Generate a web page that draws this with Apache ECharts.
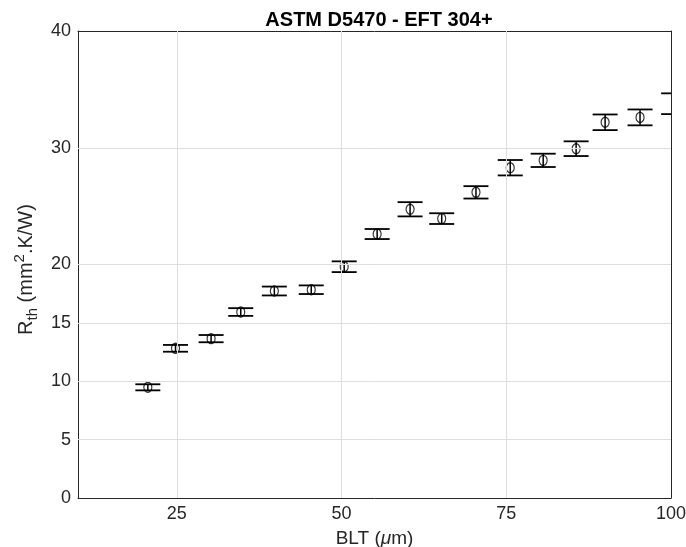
<!DOCTYPE html>
<html>
<head>
<meta charset="utf-8">
<script src="https://cdn.jsdelivr.net/npm/echarts@6/dist/echarts.min.js"></script>
<style>
  html, body { margin: 0; padding: 0; background: #fff; }
  #chart { width: 686px; height: 547px; }
</style>
</head>
<body>
<div id="chart"></div>
<script>
// BLT (um), thermal resistance and +/- error
var blt = [20.6, 24.8, 30.2, 34.7, 39.8, 45.4, 50.4, 55.4, 60.4, 65.2, 70.4, 75.6, 80.6, 85.6, 90.0, 95.3, 100.4];
var rth = [9.48, 12.82, 13.65, 15.93, 17.73, 17.84, 19.81, 22.61, 24.73, 23.93, 26.18, 28.29, 28.92, 29.92, 32.18, 32.60, 33.77];
var err = [0.26, 0.29, 0.31, 0.33, 0.38, 0.37, 0.46, 0.43, 0.61, 0.46, 0.53, 0.66, 0.57, 0.63, 0.67, 0.68, 0.89];
var xTicks = [25, 50, 75, 100];
var yTicks = [0, 5, 10, 15, 20, 30, 40];

var ink = '#262626';
var font = 'Liberation Sans, Arial, Helvetica, sans-serif';

var points = blt.map(function (x, i) { return [x, rth[i], err[i]]; });

// grid lines at the tick positions
var gridLines = [];
xTicks.forEach(function (v) { if (v > 10 && v < 100) gridLines.push({ xAxis: v }); });
yTicks.forEach(function (v) { if (v > 0 && v < 40) gridLines.push({ yAxis: v }); });

function tickAxisX(pos, show) {
  return {
    type: 'value', position: pos, min: 10, max: 100,
    axisLine: { show: true, onZero: false, lineStyle: { color: ink, width: 1 } },
    axisTick: { show: true, inside: true, length: 5, customValues: xTicks, lineStyle: { color: ink } },
    axisLabel: { show: show, customValues: xTicks, margin: 7, fontSize: 18, color: ink, fontFamily: font },
    splitLine: { show: false }
  };
}
function tickAxisY(pos, show) {
  return {
    type: 'value', position: pos, min: 0, max: 40,
    axisLine: { show: true, onZero: false, lineStyle: { color: ink, width: 1 } },
    axisTick: { show: true, inside: true, length: 5, customValues: yTicks, lineStyle: { color: ink } },
    axisLabel: { show: show, customValues: yTicks, margin: 7, fontSize: 18, color: ink, fontFamily: font },
    splitLine: { show: false }
  };
}

var xBottom = tickAxisX('bottom', true);
xBottom.name = '{n|BLT (}{i|\u03bc}{n|m)}';
xBottom.nameLocation = 'middle';
xBottom.nameGap = 31;
xBottom.nameTextStyle = {
  rich: {
    n: { fontSize: 19, color: ink, fontFamily: font },
    i: { fontSize: 19, color: ink, fontFamily: font, fontStyle: 'italic' }
  }
};

var yLeft = tickAxisY('left', true);
yLeft.name = '{n|R}{sub|th}{n| (mm}{sup|2}{end|.K/W)}';
yLeft.nameLocation = 'middle';
yLeft.nameRotate = 90;
yLeft.nameGap = 38;
yLeft.nameTextStyle = {
  rich: {
    n: { fontSize: 20, color: ink, fontFamily: font, lineHeight: 28, verticalAlign: 'middle' },
    end: { fontSize: 20, color: ink, fontFamily: font, lineHeight: 28, verticalAlign: 'middle', padding: [0, 10, 0, 0] },
    sub: { fontSize: 15, color: ink, fontFamily: font, lineHeight: 28, verticalAlign: 'bottom' },
    sup: { fontSize: 15, color: ink, fontFamily: font, lineHeight: 28, verticalAlign: 'top' }
  }
};

var chart = echarts.init(document.getElementById('chart'));
chart.setOption({
  backgroundColor: '#fff',
  animation: false,
  title: {
    text: 'ASTM D5470 - EFT 304+',
    left: 374, top: 5, textAlign: 'center',
    textStyle: { fontSize: 20, fontWeight: 'bold', color: '#000', fontFamily: font }
  },
  grid: { left: 78, right: 15, top: 31, bottom: 49, containLabel: false, outerBoundsMode: 'none' },
  xAxis: [xBottom, tickAxisX('top', false)],
  yAxis: [yLeft, tickAxisY('right', false)],
  series: [
    {
      type: 'line', data: [], silent: true,
      markLine: {
        silent: true, symbol: 'none', label: { show: false },
        lineStyle: { color: '#dedede', width: 1, type: 'solid' },
        data: gridLines
      }
    },
    {
      type: 'custom', clip: true, data: points,
      renderItem: function (params, api) {
        var x = api.value(0), y = api.value(1), e = api.value(2);
        var top = api.coord([x, y + e]);
        var bot = api.coord([x, y - e]);
        var cap = 12.5;
        var st = { stroke: '#000', lineWidth: 1.5 };
        var capSt = { stroke: '#000', lineWidth: 1.8 };
        return {
          type: 'group',
          children: [
            { type: 'line', shape: { x1: top[0], y1: top[1], x2: bot[0], y2: bot[1] }, style: st },
            { type: 'line', shape: { x1: top[0] - cap, y1: top[1], x2: top[0] + cap, y2: top[1] }, style: capSt },
            { type: 'line', shape: { x1: bot[0] - cap, y1: bot[1], x2: bot[0] + cap, y2: bot[1] }, style: capSt }
          ]
        };
      },
      z: 3
    },
    {
      type: 'scatter', clip: true, data: points,
      symbol: 'circle', symbolSize: [8, 10],
      itemStyle: { color: 'rgba(0,0,0,0)', borderColor: '#000', borderWidth: 1.3 },
      z: 4
    }
  ]
});
</script>
</body>
</html>
